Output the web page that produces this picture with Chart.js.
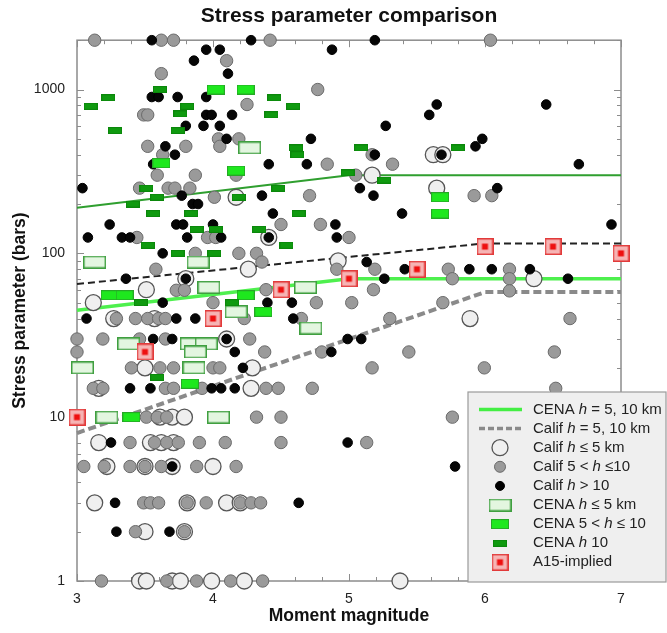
<!DOCTYPE html>
<html>
<head>
<meta charset="utf-8">
<title>Stress parameter comparison</title>
<script src="https://cdn.jsdelivr.net/npm/chart.js@4.4.1/dist/chart.umd.min.js"></script>
<style>
  html, body { margin: 0; padding: 0; background: #fff; }
</style>
</head>
<body>
<canvas id="chart" width="667" height="633"></canvas>
<script>
// [moment magnitude, stress parameter (bars)]
const califShallow = [ // Calif h <= 5 km
  [4.17,220],[5.17,300],[5.62,400],[5.69,400],[5.645,250],[4.26,80],[4.92,90],[3.80,70],[3.51,60],
  [3.12,50],[3.27,40],[3.57,40],[4.10,30],[4.29,20],[3.50,20],[4.28,15],[3.16,15],[5.89,40],[6.36,70],
  [4.41,125],[3.61,10],[3.70,10],[3.79,10],[3.16,7],[3.54,7],[3.62,7],[3.71,7],[3.22,5],[3.50,5],
  [3.70,5],[4.00,5],[3.13,3],[3.81,3],[4.10,3],[4.20,3],[3.50,2],[3.79,2],[3.46,1],[3.51,1],[3.70,1],
  [3.76,1],[3.99,1],[4.23,1],[5.375,1]
]
const califMid = [ // Calif 5 < h <= 10
  [3.13,2000],[3.62,2000],[3.71,2000],[4.42,2000],[6.04,2000],[4.10,1500],[3.62,1250],[4.25,810],
  [3.49,700],[3.52,700],[4.04,500],[4.19,500],[4.05,450],[3.52,450],[3.80,450],[3.63,400],[3.59,300],
  [3.87,300],[4.17,300],[3.46,250],[3.67,250],[3.72,250],[3.83,250],[4.01,220],[4.77,1000],[3.44,125],
  [3.96,125],[4.02,125],[3.87,100],[4.19,100],[4.32,100],[3.58,80],[3.73,59.5],[3.79,59.5],[4.00,50],
  [3.29,40],[3.43,40],[3.52,40],[3.60,40],[3.65,40],[3.0,30],[3.19,30],[3.46,30],[3.65,30],[4.27,30],
  [3.0,25],[3.40,20],[3.61,20],[3.71,20],[4.00,20],[4.05,20],[3.12,15],[3.19,15],[3.65,15],[3.71,15],
  [3.92,15],[4.50,150],[4.79,150],[5.0,125],[4.36,88.5],[5.19,80],[5.73,80],[4.91,80],[5.76,70],
  [4.39,60],[5.18,60],[4.76,50],[5.02,50],[5.69,50],[4.23,40],[4.65,40],[5.30,40],[4.38,25],[4.80,25],
  [5.44,25],[5.17,20],[4.39,15],[4.48,15],[4.73,15],[5.05,300],[5.17,400],[5.32,350],[4.84,350],
  [4.71,225],[5.92,225],[6.05,225],[6.18,80],[6.18,70],[6.18,59],[6.625,40],[6.51,25],[5.995,20],
  [6.52,15],[5.76,10],[3.51,10],[3.59,10],[3.66,10],[4.32,10],[4.50,10],[3.39,7],[3.57,7],[3.66,7],
  [3.745,7],[3.90,7],[4.09,7],[4.50,7],[5.13,7],[3.05,5],[3.20,5],[3.39,5],[3.50,5],[3.62,5],[3.88,5],
  [4.17,5],[3.49,3],[3.54,3],[3.60,3],[3.81,3],[3.95,3],[4.20,3],[4.28,3],[4.35,3],[3.43,2],[3.79,2],
  [3.18,1],[3.66,1],[3.88,1],[4.13,1],[4.365,1]
]
const califDeep = [ // Calif h > 10
  [3.55,2000],[4.28,2000],[5.19,2000],[4.875,1750],[3.95,1750],[4.05,1750],[3.86,1500],[4.11,1250],
  [3.55,900],[3.60,900],[3.74,900],[3.95,900],[3.95,700],[3.99,700],[4.14,700],[3.80,600],[3.93,600],
  [4.05,600],[4.10,500],[3.65,450],[3.72,400],[3.56,350],[3.04,250],[3.77,225],[3.85,200],[3.89,200],
  [5.27,600],[5.59,700],[5.645,810],[6.45,810],[4.72,500],[5.19,400],[4.41,350],[4.69,350],[5.08,250],
  [5.18,225],[4.36,225],[5.98,500],[5.93,450],[5.68,400],[6.69,350],[6.09,250],[3.24,150],[3.73,150],
  [3.78,150],[4.00,150],[3.08,125],[3.33,125],[3.39,125],[3.81,125],[4.06,125],[3.63,100],[3.36,70],
  [3.80,70],[3.63,50],[3.07,40],[3.73,40],[3.87,40],[3.56,30],[3.70,30],[4.10,30],[4.16,25],[3.39,15],
  [3.54,15],[3.99,15],[4.06,15],[4.16,15],[4.44,175],[5.39,175],[4.90,150],[4.41,125],[4.91,125],
  [5.13,88.5],[5.41,80],[5.885,80],[6.05,80],[6.33,80],[5.26,70],[6.61,70],[4.40,50],[4.58,50],
  [4.59,40],[4.99,30],[5.09,30],[4.87,25],[4.22,20],[6.93,150],[3.25,7],[4.99,7],[3.70,5],[5.78,5],
  [3.28,3],[4.63,3],[3.29,2],[3.68,2]
]
const cenaShallow = [ // CENA h <= 5 km
  [4.27,440],[3.13,88.5],[3.89,88.5],[3.97,62],[4.17,44],[3.38,28],[3.84,28],[3.95,28],[3.87,25],
  [3.04,20],[3.86,20],[4.68,62],[4.72,35],[3.22,10],[4.04,10]
]
const cenaMid = [ // CENA 5 < h <= 10
  [4.02,1000],[4.24,1000],[3.62,355],[4.17,320],[3.24,55.5],[3.35,55.5],[4.24,55.5],[4.37,44],
  [3.40,10],[3.83,16],[5.67,220],[5.67,175]
]
const cenaDeep = [ // CENA h 10
  [3.61,1000],[3.23,890],[3.10,790],[3.81,790],[3.76,710],[3.28,562],[3.74,562],[3.51,250],[3.59,220],
  [4.19,220],[3.41,200],[4.45,890],[4.59,790],[4.43,700],[4.61,440],[4.62,400],[5.09,440],[4.99,310],
  [5.26,280],[4.48,250],[5.80,440],[3.56,175],[3.84,175],[3.88,140],[4.02,140],[4.34,140],[3.52,112],
  [3.74,100],[4.01,100],[3.47,50],[4.14,50],[3.59,17.5],[4.63,175],[4.54,112]
]
const a15Implied = [[3.0,10],[3.5,25],[4.0,40],[4.5,60],[5.0,70],[5.5,80],[6.0,110],[6.5,110],[7.0,100]]

// model curves
const cenaUpper = [[3,190],[5,300],[7,300]]
const cenaLower = [[3,45],[5,70],[7,70]]
const califUpper = [[3,65],[6,115],[7,115]]
const califLower = [[3,8],[6,58],[7,58]]

const FONT = "'Liberation Sans', Arial, Helvetica, sans-serif"
Chart.defaults.font.family = FONT
Chart.defaults.color = "#222"

function xy(list) {
  return list.map(p => ({ x: p[0], y: p[1] }))
}

// little canvases used as point styles for the rectangle symbols
function boxSymbol(w, h, fill, stroke, lw) {
  const c = document.createElement("canvas")
  c.width = w
  c.height = h
  const g = c.getContext("2d")
  g.fillStyle = fill
  g.fillRect(0, 0, w, h)
  g.strokeStyle = stroke
  g.lineWidth = lw
  g.strokeRect(lw / 2, lw / 2, w - lw, h - lw)
  return c
}

function a15Symbol() {
  const c = boxSymbol(17, 17, "#f6b4b4", "#e23a3a", 1.5)
  const g = c.getContext("2d")
  g.fillStyle = "#ee1010"
  g.fillRect(5.5, 5.5, 6, 6)
  return c
}

const symCenaShallow = boxSymbol(23, 13, "#e3f6e0", "#3f9f3f", 1.5)
const symCenaMid = boxSymbol(18, 10, "#1ee81e", "#26a826", 1)
const symCenaDeep = boxSymbol(14, 7, "#0f9a0f", "#0b870b", 1)
const symA15 = a15Symbol()

function lineSet(label, data, color, width, dash, order) {
  return {
    label, data: xy(data), showLine: true, pointRadius: 0,
    borderColor: color, borderWidth: width, borderDash: dash, order, clip: false
  }
}

// frame and inward ticks on all four sides
const framePlugin = {
  id: "frame",
  beforeDatasetsDraw(chart) {
    const { ctx, chartArea: a, scales } = chart
    const xs = scales.x, ys = scales.y
    ctx.save()
    ctx.strokeStyle = "#8c8c8c"
    ctx.lineWidth = 1.5
    ctx.strokeRect(a.left, a.top, a.right - a.left, a.bottom - a.top)
    ctx.lineWidth = 1
    ctx.beginPath()
    for (let i = 0; i <= 20; i++) {
      const v = 3 + i * 0.2
      const px = Math.round(xs.getPixelForValue(v)) + 0.5
      const len = i % 5 === 0 ? 7 : 4
      ctx.moveTo(px, a.bottom); ctx.lineTo(px, a.bottom - len)
      ctx.moveTo(px, a.top); ctx.lineTo(px, a.top + len)
    }
    for (const d of [1, 10, 100, 1000]) {
      for (let k = 1; k <= 9; k++) {
        const v = k * d
        if (v > 2000) break
        const py = Math.round(ys.getPixelForValue(v)) + 0.5
        const len = k === 1 ? 7 : 4
        ctx.moveTo(a.left, py); ctx.lineTo(a.left + len, py)
        ctx.moveTo(a.right, py); ctx.lineTo(a.right - len, py)
      }
    }
    ctx.stroke()
    ctx.restore()
  }
}

const legendRows = [
  { kind: "line", color: "#44ee44", width: 3.5, dash: [], text: [["CENA "], ["h", "i"], [" = 5, 10 km"]] },
  { kind: "line", color: "#8a8a8a", width: 3.5, dash: [6, 3], text: [["Calif "], ["h", "i"], [" = 5, 10 km"]] },
  { kind: "circle", r: 8, fill: "#f0f0f0", stroke: "#555", lw: 1.3, text: [["Calif "], ["h", "i"], [" ≤ 5 km"]] },
  { kind: "circle", r: 5.5, fill: "#9a9a9a", stroke: "#6a6a6a", lw: 1, text: [["Calif 5 < "], ["h", "i"], [" ≤10"]] },
  { kind: "circle", r: 4.5, fill: "#000", stroke: "#000", lw: 1, text: [["Calif "], ["h", "i"], [" > 10"]] },
  { kind: "img", img: symCenaShallow, text: [["CENA "], ["h", "i"], [" ≤ 5 km"]] },
  { kind: "img", img: symCenaMid, text: [["CENA 5 < "], ["h", "i"], [" ≤ 10"]] },
  { kind: "img", img: symCenaDeep, text: [["CENA "], ["h", "i"], [" 10"]] },
  { kind: "img", img: symA15, text: [["A15-implied"]] }
]

const legendPlugin = {
  id: "boxLegend",
  afterDraw(chart) {
    const ctx = chart.ctx
    const x0 = 468, y0 = 392, x1 = 666, y1 = 582
    ctx.save()
    ctx.fillStyle = "#efefef"
    ctx.fillRect(x0, y0, x1 - x0, y1 - y0)
    ctx.strokeStyle = "#9a9a9a"
    ctx.lineWidth = 1.2
    ctx.strokeRect(x0, y0, x1 - x0, y1 - y0)
    legendRows.forEach((row, i) => {
      const cy = 409.5 + i * 19.1
      const cx = 500
      if (row.kind === "line") {
        ctx.strokeStyle = row.color
        ctx.lineWidth = row.width
        ctx.setLineDash(row.dash)
        ctx.beginPath()
        ctx.moveTo(479, cy); ctx.lineTo(522, cy)
        ctx.stroke()
        ctx.setLineDash([])
      } else if (row.kind === "circle") {
        ctx.beginPath()
        ctx.arc(cx, cy, row.r, 0, Math.PI * 2)
        ctx.fillStyle = row.fill
        ctx.fill()
        ctx.lineWidth = row.lw
        ctx.strokeStyle = row.stroke
        ctx.stroke()
      } else {
        ctx.drawImage(row.img, cx - row.img.width / 2, cy - row.img.height / 2)
      }
      let tx = 533
      ctx.fillStyle = "#222"
      ctx.textBaseline = "middle"
      row.text.forEach(seg => {
        ctx.font = (seg[1] === "i" ? "italic " : "") + "15px " + FONT
        ctx.fillText(seg[0], tx, cy)
        tx += ctx.measureText(seg[0]).width
      })
    })
    ctx.restore()
  }
}

new Chart(document.getElementById("chart"), {
  type: "scatter",
  data: {
    datasets: [
      { label: "A15-implied", data: xy(a15Implied), pointStyle: symA15, order: 0, clip: false },
      { label: "CENA h 10", data: xy(cenaDeep), pointStyle: symCenaDeep, order: 1, clip: false },
      { label: "CENA 5 < h ≤ 10", data: xy(cenaMid), pointStyle: symCenaMid, order: 2, clip: false },
      { label: "CENA h ≤ 5 km", data: xy(cenaShallow), pointStyle: symCenaShallow, order: 3, clip: false },
      { label: "Calif h > 10", data: xy(califDeep), pointStyle: "circle", pointRadius: 4.8,
        backgroundColor: "#060606", borderColor: "#000", borderWidth: 1, order: 4, clip: false },
      { label: "Calif 5 < h ≤10", data: xy(califMid), pointStyle: "circle", pointRadius: 6.2,
        backgroundColor: "#9a9a9a", borderColor: "#6a6a6a", borderWidth: 1, order: 5, clip: false },
      { label: "Calif h ≤ 5 km", data: xy(califShallow), pointStyle: "circle", pointRadius: 8,
        backgroundColor: "#efefef", borderColor: "#555", borderWidth: 1.3, order: 6, clip: false },
      lineSet("CENA h = 5, 10 km", cenaUpper, "#2f9f2f", 2, [], 7),
      lineSet("CENA h = 5, 10 km", cenaLower, "#4ef04e", 3.5, [], 8),
      lineSet("Calif h = 5, 10 km", califUpper, "#222", 2, [7, 4], 9),
      lineSet("Calif h = 5, 10 km", califLower, "#8a8a8a", 4, [8, 4], 10)
    ]
  },
  options: {
    responsive: false,
    animation: false,
    events: [],
    layout: { padding: { left: 0, right: 46, top: 0, bottom: 0 } },
    plugins: {
      legend: { display: false },
      tooltip: { enabled: false },
      title: {
        display: true,
        fullSize: false,
        text: "Stress parameter comparison",
        color: "#111",
        font: { size: 21, weight: "bold" },
        padding: { top: 4, bottom: 11 }
      }
    },
    scales: {
      x: {
        type: "linear",
        position: "bottom",
        min: 3,
        max: 7,
        grid: { display: false, drawTicks: false },
        border: { display: false },
        ticks: { stepSize: 1, font: { size: 14 }, color: "#222", padding: 10 },
        title: {
          display: true, text: "Moment magnitude", color: "#111",
          font: { size: 17.5, weight: "bold" }, padding: { top: 0, bottom: 6 }
        },
        afterFit: s => { s.height = 52 }
      },
      y: {
        type: "logarithmic",
        position: "left",
        min: 1,
        max: 2000,
        grid: { display: false, drawTicks: false },
        border: { display: false },
        ticks: {
          autoSkip: false,
          font: { size: 14 },
          color: "#222",
          padding: 12,
          callback: v => ([1, 10, 100, 1000].includes(v) ? String(v) : "")
        },
        title: {
          display: true, text: "Stress parameter (bars)", color: "#111",
          font: { size: 17.5, weight: "bold" }, padding: { top: 10, bottom: 0 }
        },
        afterFit: s => { s.width = 77 }
      }
    }
  },
  plugins: [framePlugin, legendPlugin]
})
</script>
</body>
</html>
